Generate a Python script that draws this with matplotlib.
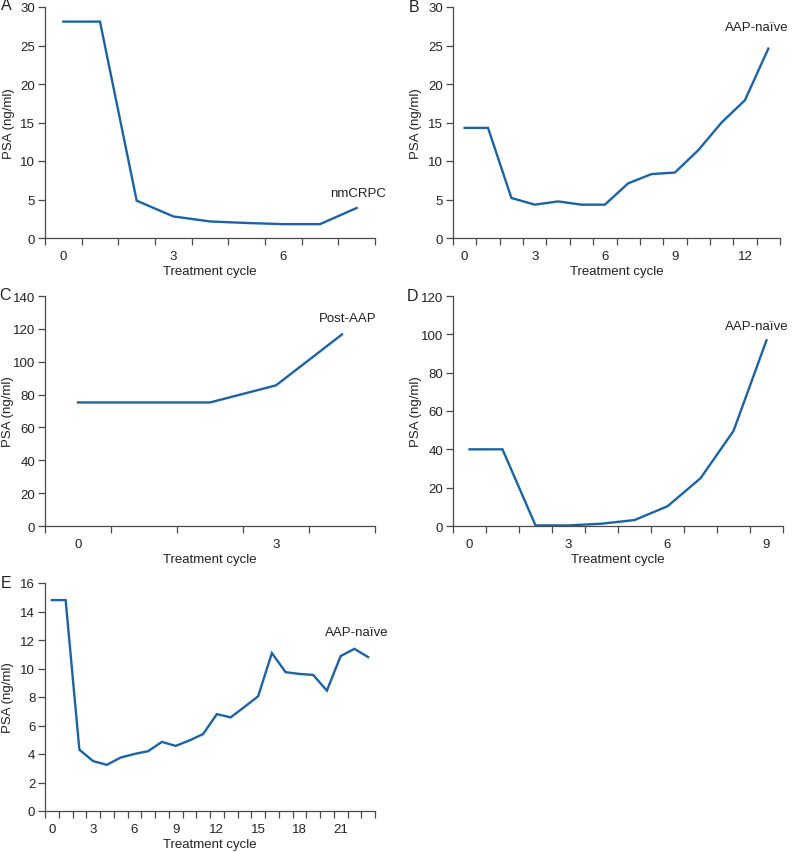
import numpy as np
import matplotlib
matplotlib.use("Agg")
import matplotlib.pyplot as plt

plt.rcParams['font.family'] = ['Liberation Sans', 'DejaVu Sans']

W, H = 793, 853
LINE_COLOR = '#1c63a6'
TEXT_COLOR = '#222222'
AXIS_COLOR = '#4a4a4a'

# PSA values (ng/ml) per treatment cycle
psa_a = [28.1, 28.1, 4.85, 2.8, 2.15, 1.95, 1.8, 1.8, 3.9]
psa_b = [14.3, 14.3, 5.2, 4.33, 4.75, 4.33, 4.33, 7.1, 8.3, 8.5, 11.4, 15.0, 17.9, 24.6]
psa_c = [75.2, 75.2, 75.2, 85.6, 116.6]
psa_d = [40.0, 40.0, 0.3, 0.3, 1.2, 3.1, 10.3, 24.9, 49.6, 96.9]
psa_e = [14.8, 14.8, 4.3, 3.5, 3.24, 3.75, 4.0, 4.2, 4.85, 4.57, 4.95, 5.4,
         6.8, 6.57, 7.3, 8.05, 11.08, 9.74, 9.62, 9.55, 8.45, 10.87, 11.38, 10.8]

letters = ['A', 'B', 'C', 'D', 'E']
groups = ['nmCRPC', 'AAP-naïve', 'Post-AAP', 'AAP-naïve', 'AAP-naïve']
ymax = [30, 30, 140, 120, 16]
ystep = [5, 5, 20, 20, 2]

# axes boxes in pixels: left, right, top, bottom
boxes = [(45, 375, 8, 239), (453, 780, 8, 239), (45, 375, 297, 527),
         (453, 783, 297, 527), (45, 375, 584, 812)]
# group label positions (data coords)
label_pos = [(8.05, 5.8), (12.5, 27.4), (4.08, 126.6), (8.71, 104.3), (22.2, 12.56)]
# panel letter positions (pixels)
letter_pos = [(6, 6), (414, 7), (5, 296), (412, 297), (6, 584)]
# y-label centre, pixels from the figure's left edge
ylabel_x = [9, 416, 8, 416, 8]

fig = plt.figure(figsize=(W / 100, H / 100), dpi=100)

for i, vals in enumerate([psa_a, psa_b, psa_c, psa_d, psa_e]):
    l, r, t, b = boxes[i]
    ax = fig.add_axes([l / W, 1 - b / H, (r - l) / W, (b - t) / H])
    n = len(vals)
    x = np.arange(n)
    ax.plot(x, vals, color=LINE_COLOR, lw=1.7, solid_joinstyle='miter')

    ax.set_xlim(-0.5, n - 0.5)
    ax.set_ylim(0, ymax[i])
    ax.set_yticks(np.arange(0, ymax[i] + 1e-9, ystep[i]))
    ax.set_xticks(np.arange(0, n, 3))
    ax.set_xticks(np.arange(-0.5, n, 1), minor=True)

    for side in ['top', 'right']:
        ax.spines[side].set_visible(False)
    for side in ['left', 'bottom']:
        ax.spines[side].set_color(AXIS_COLOR)
        ax.spines[side].set_linewidth(0.9)

    ax.tick_params(axis='x', which='major', length=0, pad=9,
                   labelsize=9.5, labelcolor=TEXT_COLOR)
    ax.tick_params(axis='x', which='minor', length=5, width=0.9, color=AXIS_COLOR)
    ax.tick_params(axis='y', length=5, width=0.9, color=AXIS_COLOR, pad=2,
                   labelsize=9.5, labelcolor=TEXT_COLOR)

    ax.set_xlabel('Treatment cycle', fontsize=9.5, color=TEXT_COLOR, labelpad=2)
    ax.set_ylabel('PSA (ng/ml)', fontsize=9.5, color=TEXT_COLOR, va='center')
    ax.yaxis.set_label_coords((ylabel_x[i] - l) / (r - l), 0.5)

    ax.text(label_pos[i][0], label_pos[i][1], groups[i], ha='center', va='center',
            fontsize=9.5, color=TEXT_COLOR, clip_on=False)

    lx, ly = letter_pos[i]
    fig.text(lx / W, 1 - ly / H, letters[i], ha='center', va='center',
             fontsize=11.5, color=TEXT_COLOR)

fig.savefig('out.png', dpi=100)
